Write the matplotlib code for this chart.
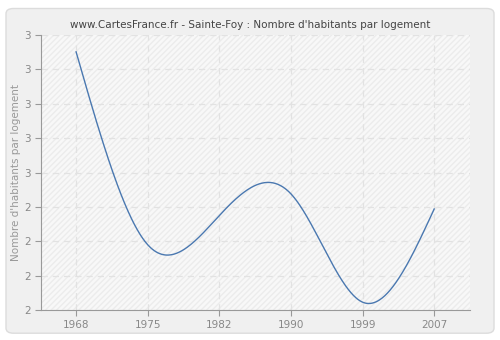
import numpy as np
import matplotlib
matplotlib.use("Agg")
import matplotlib.pyplot as plt
from matplotlib.patches import FancyBboxPatch, Rectangle

# donnees
annees = ["1968", "1975", "1982", "1990", "1999", "2007"]
valeurs = [2.851, 2.29, 2.375, 2.438, 2.123, 2.394]
graduations = [2.1, 2.2, 2.3, 2.4, 2.5, 2.6, 2.7, 2.8, 2.9]


def spline_naturelle(x, y, xs):
    # spline cubique naturelle, sans scipy
    x = np.asarray(x, float)
    y = np.asarray(y, float)
    n = len(x)
    h = np.diff(x)
    A = np.zeros((n, n))
    b = np.zeros(n)
    A[0, 0] = 1
    A[-1, -1] = 1
    for i in range(1, n - 1):
        A[i, i - 1] = h[i - 1]
        A[i, i] = 2 * (h[i - 1] + h[i])
        A[i, i + 1] = h[i]
        b[i] = 3 * ((y[i + 1] - y[i]) / h[i] - (y[i] - y[i - 1]) / h[i - 1])
    c = np.linalg.solve(A, b)
    ys = np.zeros_like(xs)
    for k, xv in enumerate(xs):
        i = min(np.searchsorted(x, xv, side="right") - 1, n - 2)
        i = max(i, 0)
        dx = xv - x[i]
        bb = (y[i + 1] - y[i]) / h[i] - h[i] * (2 * c[i] + c[i + 1]) / 3
        d = (c[i + 1] - c[i]) / (3 * h[i])
        ys[k] = y[i] + bb * dx + c[i] * dx ** 2 + d * dx ** 3
    return ys


fig = plt.figure(figsize=(5, 3.4), dpi=100, facecolor="white")
fond = FancyBboxPatch((0.012, 0.02), 0.976, 0.955, boxstyle="round,pad=0,rounding_size=0.015",
                      transform=fig.transFigure, facecolor="#f0f0f0", edgecolor="#dcdcdc",
                      linewidth=1, zorder=-10)
fig.patches.append(fond)

ax = fig.add_axes([0.082, 0.088, 0.858, 0.809])
ax.set_facecolor("#f8f8f8")
ax.add_patch(Rectangle((0, 0), 1, 1, transform=ax.transAxes, facecolor="none",
                       edgecolor="#ececec", hatch="//////", linewidth=0, zorder=0))

x = np.arange(len(annees))
xs = np.linspace(0, len(annees) - 1, 400)
ax.plot(xs, spline_naturelle(x, valeurs, xs), color="#4a78b0", linewidth=1, zorder=3)

ax.set_xlim(-0.49, 5.5)
ax.set_ylim(2.1, 2.9)
ax.set_xticks(x)
ax.set_xticklabels(annees)
ax.set_yticks(graduations)
ax.set_yticklabels([str(int(np.floor(g + 0.5))) for g in graduations])

ax.grid(True, color="#e2e2e2", linestyle=(0, (5, 4)), linewidth=0.9, zorder=1)
ax.set_axisbelow(True)
for cote in ["top", "right"]:
    ax.spines[cote].set_visible(False)
for cote in ["left", "bottom"]:
    ax.spines[cote].set_color("#999999")
ax.tick_params(colors="#999999", labelcolor="#888888", labelsize=7.5, length=4, width=0.8)
ax.set_ylabel("Nombre d'habitants par logement", color="#999999", fontsize=7.5, labelpad=2)

fig.text(0.5, 0.925, "www.CartesFrance.fr - Sainte-Foy : Nombre d'habitants par logement",
         ha="center", va="center", fontsize=7.5, color="#444444")

fig.savefig("out.png", dpi=100, facecolor=fig.get_facecolor())
